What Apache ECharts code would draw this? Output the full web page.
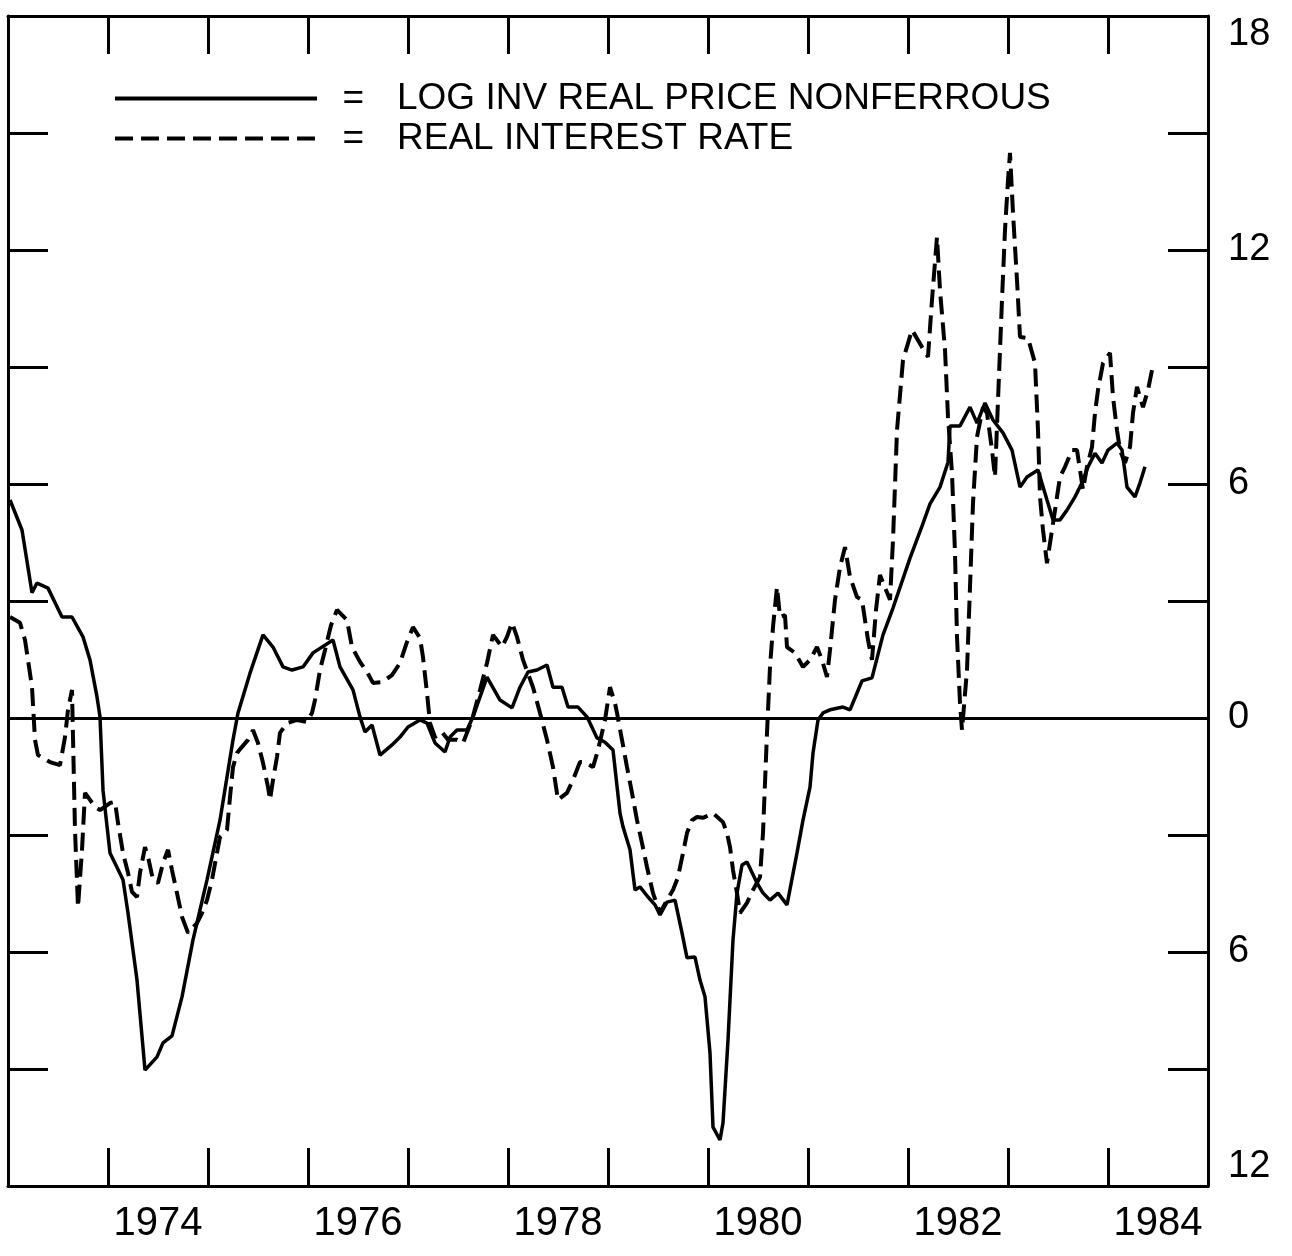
<!DOCTYPE html>
<html>
<head>
<meta charset="utf-8">
<script src="https://cdn.jsdelivr.net/npm/echarts@6/dist/echarts.min.js"></script>
<style>
html,body{margin:0;padding:0;background:#fff;}
#chart{width:1292px;height:1256px;}
</style>
</head>
<body>
<div id="chart"></div>
<script>
// Series names
const seriesNames = ['LOG INV REAL PRICE NONFERROUS', 'REAL INTEREST RATE'];

// Log inverse real price of nonferrous metals (solid line) - decimal years and values
const priceYears = [1973.02,1973.14,1973.24,1973.29,1973.40,1973.54,1973.64,1973.75,1973.82,1973.89,1973.92,1973.95,1974.02,1974.15,1974.20,1974.29,1974.37,1974.49,1974.55,1974.64,1974.74,1974.85,1974.99,1975.12,1975.25,1975.30,1975.42,1975.55,1975.65,1975.75,1975.84,1975.95,1976.05,1976.25,1976.32,1976.45,1976.52,1976.57,1976.64,1976.72,1976.84,1976.92,1977.00,1977.12,1977.19,1977.27,1977.37,1977.42,1977.49,1977.59,1977.65,1977.79,1977.92,1978.04,1978.12,1978.20,1978.29,1978.39,1978.45,1978.54,1978.60,1978.70,1978.79,1978.89,1978.97,1979.05,1979.12,1979.15,1979.22,1979.27,1979.32,1979.40,1979.47,1979.52,1979.59,1979.67,1979.74,1979.79,1979.87,1979.92,1979.97,1980.02,1980.05,1980.12,1980.15,1980.20,1980.25,1980.29,1980.34,1980.39,1980.49,1980.55,1980.62,1980.70,1980.79,1980.89,1980.95,1981.02,1981.05,1981.10,1981.15,1981.22,1981.35,1981.42,1981.49,1981.54,1981.64,1981.75,1981.85,1982.02,1982.14,1982.22,1982.32,1982.40,1982.42,1982.52,1982.62,1982.69,1982.77,1982.85,1982.95,1983.04,1983.12,1983.19,1983.30,1983.39,1983.45,1983.52,1983.59,1983.67,1983.74,1983.80,1983.87,1983.94,1984.00,1984.09,1984.14,1984.19,1984.27,1984.32,1984.37];
const priceValues = [5.59,4.82,3.21,3.46,3.33,2.59,2.59,2.08,1.49,0.54,0.03,-1.85,-3.46,-4.15,-5.00,-6.72,-9.03,-8.69,-8.33,-8.15,-7.15,-5.69,-4.15,-2.62,-0.56,0.13,1.15,2.13,1.82,1.31,1.23,1.31,1.67,2.00,1.31,0.72,0.03,-0.36,-0.18,-0.95,-0.69,-0.49,-0.23,-0.05,-0.13,-0.64,-0.87,-0.49,-0.31,-0.31,0.03,1.05,0.46,0.26,0.79,1.18,1.23,1.36,0.79,0.79,0.28,0.28,0.03,-0.51,-0.62,-0.82,-2.44,-2.79,-3.38,-4.41,-4.33,-4.59,-4.79,-5.05,-4.72,-4.67,-5.51,-6.15,-6.13,-6.72,-7.15,-8.59,-10.49,-10.82,-10.38,-8.26,-5.69,-4.49,-3.77,-3.69,-4.23,-4.49,-4.67,-4.49,-4.79,-3.46,-2.62,-1.77,-0.90,-0.05,0.13,0.21,0.28,0.21,0.64,0.95,1.03,2.13,2.82,4.10,4.92,5.49,5.92,6.56,7.49,7.49,7.97,7.56,8.08,7.64,7.31,6.87,5.92,6.18,6.36,5.59,5.08,5.08,5.33,5.67,6.03,6.44,6.79,6.54,6.87,7.05,6.87,5.92,5.67,6.03,6.44];

// Real interest rate (dashed line)
const rateYears = [1973.02,1973.12,1973.17,1973.20,1973.24,1973.27,1973.30,1973.42,1973.52,1973.57,1973.60,1973.64,1973.65,1973.67,1973.70,1973.74,1973.77,1973.82,1973.87,1973.92,1974.02,1974.07,1974.10,1974.15,1974.20,1974.24,1974.29,1974.32,1974.37,1974.40,1974.45,1974.50,1974.55,1974.60,1974.64,1974.69,1974.74,1974.80,1974.89,1974.94,1974.99,1975.04,1975.09,1975.12,1975.19,1975.22,1975.25,1975.29,1975.34,1975.40,1975.45,1975.50,1975.55,1975.60,1975.62,1975.65,1975.69,1975.72,1975.79,1975.89,1975.99,1976.04,1976.07,1976.12,1976.17,1976.23,1976.29,1976.39,1976.44,1976.52,1976.59,1976.65,1976.74,1976.84,1976.92,1976.99,1977.05,1977.12,1977.15,1977.19,1977.22,1977.27,1977.34,1977.40,1977.49,1977.55,1977.64,1977.72,1977.79,1977.85,1977.94,1977.99,1978.04,1978.09,1978.15,1978.25,1978.32,1978.39,1978.45,1978.50,1978.59,1978.65,1978.72,1978.77,1978.85,1978.90,1978.97,1979.02,1979.07,1979.09,1979.14,1979.19,1979.24,1979.29,1979.34,1979.39,1979.45,1979.52,1979.59,1979.65,1979.70,1979.75,1979.79,1979.84,1979.89,1979.95,1980.05,1980.15,1980.19,1980.22,1980.25,1980.29,1980.32,1980.39,1980.45,1980.52,1980.55,1980.57,1980.59,1980.62,1980.65,1980.69,1980.72,1980.77,1980.79,1980.87,1980.95,1981.02,1981.09,1981.14,1981.19,1981.22,1981.27,1981.32,1981.37,1981.42,1981.49,1981.54,1981.60,1981.64,1981.68,1981.72,1981.78,1981.82,1981.85,1981.89,1981.95,1982.04,1982.14,1982.20,1982.24,1982.29,1982.32,1982.37,1982.40,1982.44,1982.47,1982.49,1982.52,1982.54,1982.59,1982.62,1982.65,1982.69,1982.75,1982.79,1982.84,1982.87,1982.90,1982.94,1982.97,1983.00,1983.02,1983.05,1983.09,1983.12,1983.20,1983.27,1983.30,1983.32,1983.35,1983.39,1983.44,1983.49,1983.52,1983.57,1983.64,1983.69,1983.72,1983.75,1983.79,1983.84,1983.87,1983.90,1983.95,1984.02,1984.05,1984.09,1984.12,1984.17,1984.22,1984.25,1984.29,1984.32,1984.35,1984.40,1984.44];
const rateValues = [2.59,2.44,2.00,1.49,0.79,-0.56,-0.95,-1.13,-1.21,-0.49,0.21,0.72,-0.49,-2.87,-4.85,-3.38,-1.92,-2.10,-2.28,-2.36,-2.18,-2.15,-2.69,-3.46,-3.97,-4.46,-4.59,-3.97,-3.31,-3.56,-4.15,-4.23,-3.72,-3.38,-3.90,-4.49,-5.10,-5.51,-5.26,-5.00,-4.67,-4.15,-3.46,-3.05,-2.87,-2.03,-1.26,-0.90,-0.74,-0.56,-0.31,-0.64,-1.15,-1.77,-2.10,-1.59,-1.00,-0.38,-0.13,-0.05,-0.10,0.13,0.46,1.23,1.74,2.38,2.77,2.51,1.82,1.44,1.18,0.90,0.92,1.10,1.41,1.95,2.33,2.05,1.56,0.64,-0.13,-0.49,-0.36,-0.56,-0.56,-0.64,-0.05,0.72,1.41,2.13,1.82,2.08,2.44,2.08,1.49,0.79,0.13,-0.56,-1.26,-2.10,-1.92,-1.59,-1.13,-1.13,-1.26,-0.82,-0.05,0.79,0.38,0.13,-0.56,-1.26,-1.92,-2.62,-3.21,-3.82,-4.49,-5.00,-4.67,-4.41,-4.08,-3.46,-2.95,-2.62,-2.54,-2.56,-2.44,-2.67,-2.95,-3.31,-3.90,-4.49,-5.00,-4.74,-4.41,-4.08,-2.95,-1.67,-0.38,1.31,2.33,3.36,2.59,2.64,1.82,1.67,1.31,1.49,1.82,1.49,1.05,1.74,3.03,3.87,4.38,3.62,3.10,3.03,2.00,1.49,2.77,3.67,3.28,3.03,4.56,7.38,9.18,9.95,9.51,9.26,10.72,12.33,10.97,9.44,7.72,6.28,4.23,2.08,0.38,-0.31,1.23,3.36,5.51,7.21,7.97,7.82,6.87,6.18,8.15,10.72,12.51,13.79,14.49,12.95,11.23,9.77,9.74,9.10,7.38,5.67,4.82,3.97,4.82,5.67,6.18,6.44,6.87,6.87,6.36,5.85,6.44,6.95,7.82,8.41,9.10,9.36,8.23,7.38,6.87,6.54,6.95,7.82,8.49,8.23,7.97,8.41,8.92];

// Axis settings
const yearMin = 1973, yearMax = 1985;
const valueMin = -12, valueMax = 18, valueStep = 3;

const FONT = '"Liberation Sans", Arial, sans-serif';
const INK = '#000';

const priceData = priceYears.map((y, i) => [y, priceValues[i]]);
const rateData = rateYears.map((y, i) => [y, rateValues[i]]);

const chart = echarts.init(document.getElementById('chart'), null, {renderer: 'canvas'});

const frameLine = {show: true, onZero: false, lineStyle: {color: INK, width: 3}};
const inTick = (len) => ({show: true, inside: true, length: len, lineStyle: {color: INK, width: 3}});

chart.setOption({
  animation: false,
  backgroundColor: '#fff',
  grid: {left: 8, right: 84, top: 16, bottom: 70, containLabel: false},
  legend: {
    data: seriesNames,
    orient: 'vertical',
    left: 108,
    top: 75,
    itemWidth: 202,
    itemHeight: 14,
    itemGap: 3,
    selectedMode: false,
    itemStyle: {opacity: 0},
    lineStyle: {width: 4},
    formatter: (name) => '{e|  =}{t|' + name + '}',
    textStyle: {
      color: INK,
      fontFamily: FONT,
      fontSize: 37,
      lineHeight: 36,
      rich: {
        e: {width: 75, fontSize: 37, fontFamily: FONT, color: INK, lineHeight: 36},
        t: {fontSize: 37, fontFamily: FONT, color: INK, lineHeight: 36}
      }
    }
  },
  xAxis: [
    {
      type: 'value', position: 'bottom', min: yearMin, max: yearMax, interval: 1,
      axisLine: frameLine, axisTick: inTick(38), axisLabel: {show: false}, splitLine: {show: false}
    },
    {
      type: 'value', position: 'top', min: yearMin, max: yearMax, interval: 1,
      axisLine: frameLine, axisTick: inTick(38), axisLabel: {show: false}, splitLine: {show: false}
    },
    {
      type: 'value', position: 'bottom', min: yearMin, max: yearMax, interval: 0.5,
      axisLine: {show: false, onZero: false}, axisTick: {show: false}, splitLine: {show: false},
      axisLabel: {
        show: true, margin: 18, color: INK, fontFamily: FONT, fontSize: 40,
        showMinLabel: false, showMaxLabel: false,
        formatter: (v) => {
          const f = Math.floor(v + 1e-9);
          if (Math.abs(v - f - 0.5) < 1e-6 && f % 2 === 0) return String(f);
          return '';
        }
      }
    }
  ],
  yAxis: [
    {
      type: 'value', position: 'left', min: valueMin, max: valueMax, interval: valueStep,
      axisLine: frameLine, axisTick: inTick(40), axisLabel: {show: false}, splitLine: {show: false}
    },
    {
      type: 'value', position: 'right', min: valueMin, max: valueMax, interval: valueStep,
      axisLine: frameLine, axisTick: inTick(40), splitLine: {show: false},
      axisLabel: {
        show: true, margin: 20, color: INK, fontFamily: FONT, fontSize: 38,
        verticalAlignMaxLabel: 'top', verticalAlignMinLabel: 'bottom',
        formatter: (v) => (v % 6 === 0 ? String(Math.abs(v)) : '')
      }
    }
  ],
  series: [
    {
      name: seriesNames[0],
      type: 'line',
      xAxisIndex: 0, yAxisIndex: 0,
      data: priceData,
      symbol: 'none',
      smooth: false,
      lineStyle: {color: INK, width: 3.5, type: 'solid'},
      itemStyle: {color: INK},
      z: 3,
      markLine: {
        silent: true,
        symbol: ['none', 'none'],
        label: {show: false},
        lineStyle: {color: INK, width: 3, type: 'solid'},
        data: [{yAxis: 0}]
      }
    },
    {
      name: seriesNames[1],
      type: 'line',
      xAxisIndex: 0, yAxisIndex: 0,
      data: rateData,
      symbol: 'none',
      smooth: false,
      lineStyle: {color: INK, width: 4, type: [18, 8]},
      itemStyle: {color: INK},
      z: 4
    }
  ]
});
</script>
</body>
</html>
